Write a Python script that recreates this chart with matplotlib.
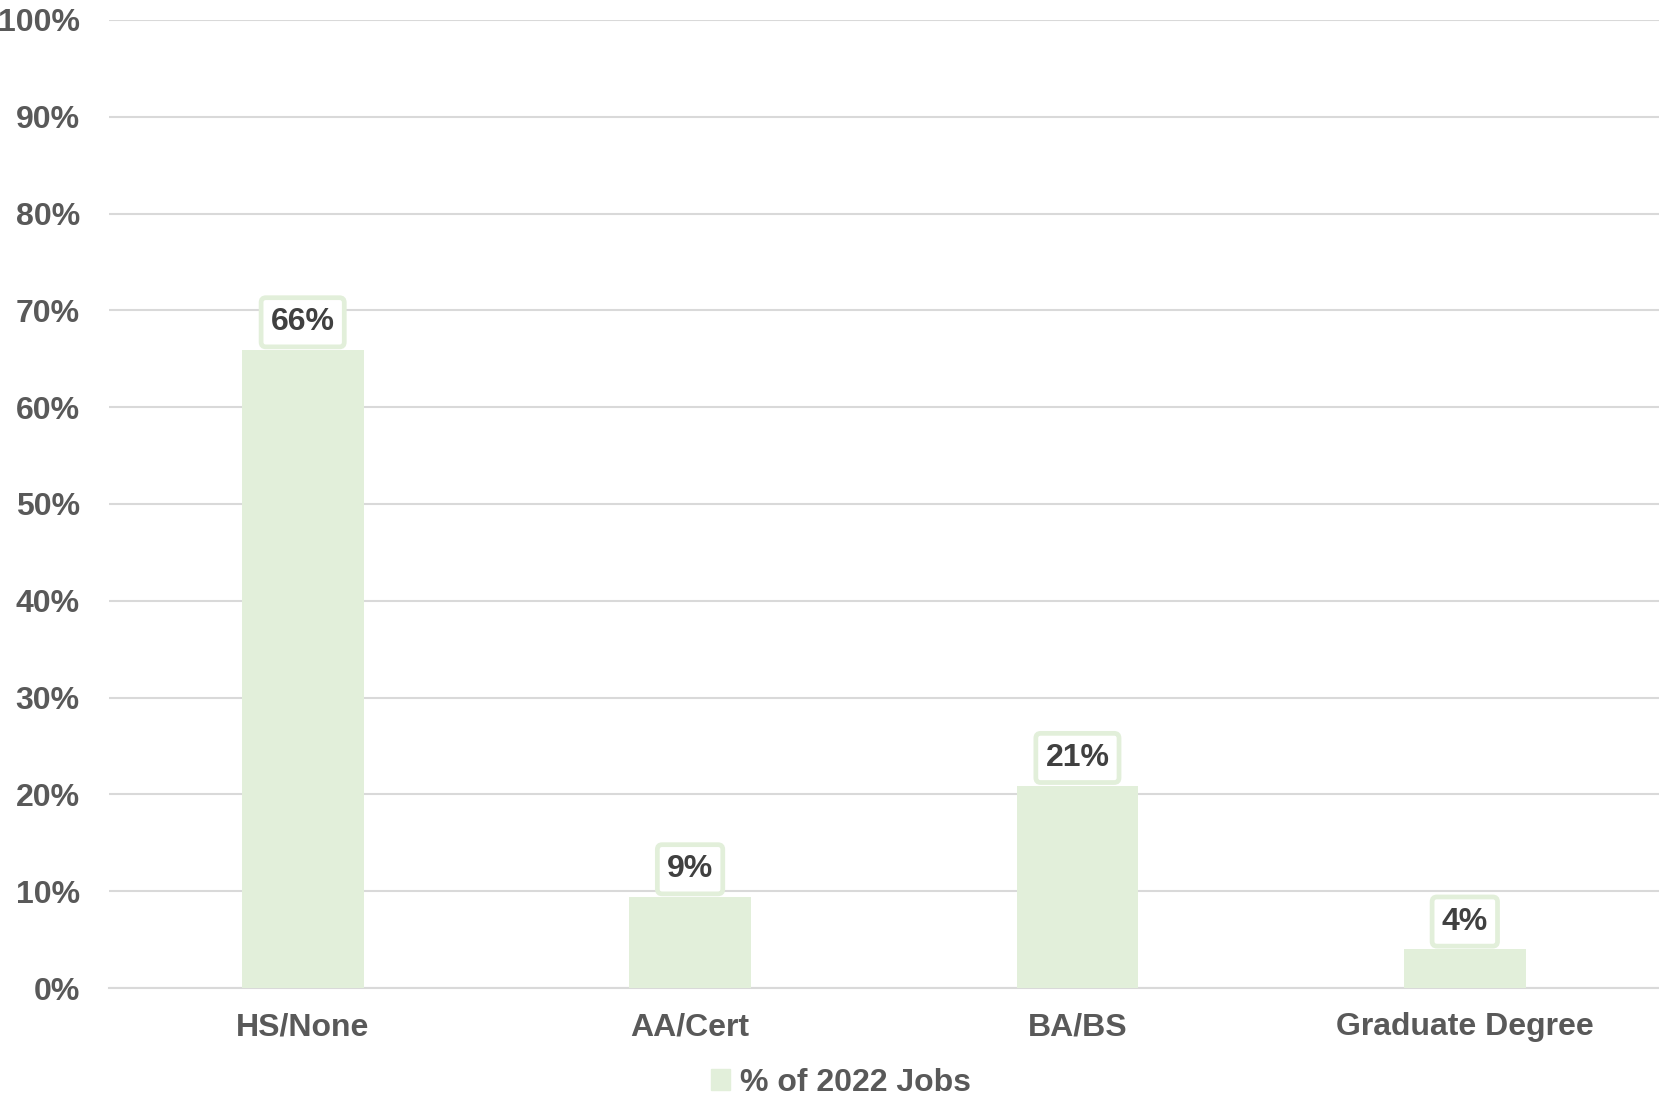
import matplotlib
matplotlib.use("Agg")
import matplotlib.pyplot as plt
from matplotlib.ticker import MultipleLocator, FuncFormatter
from matplotlib.patches import Patch

# share of 2022 jobs by education level required
categories = ["HS/None", "AA/Cert", "BA/BS", "Graduate Degree"]
job_share = [65.9, 9.4, 20.9, 4.0]
series_name = "% of 2022 Jobs"

bar_color = "#E2EFDA"
text_color = "#595959"
label_color = "#404040"

plt.rcParams["font.family"] = ["Liberation Sans", "DejaVu Sans"]
plt.rcParams["font.weight"] = "bold"

fig = plt.figure(figsize=(16.59, 10.96), dpi=100)
ax = fig.add_axes([0.0657, 0.0985, 0.934, 0.8833])

x = range(len(categories))
ax.bar(x, job_share, width=0.314, color=bar_color, zorder=3)

for xi, val in zip(x, job_share):
    ax.annotate(f"{val:.0f}%", xy=(xi, val), xytext=(0, 20), textcoords="offset points",
                ha="center", va="center", fontsize=23, fontweight="bold", color=label_color,
                bbox=dict(boxstyle="round,pad=0.3,rounding_size=0.15", fc="white",
                          ec=bar_color, lw=3.4), zorder=4)

ax.set_xlim(-0.5, 3.5)
ax.set_ylim(0, 100)
ax.yaxis.set_major_locator(MultipleLocator(10))
ax.yaxis.set_major_formatter(FuncFormatter(lambda v, p: f"{v:.0f}%"))
ax.set_xticks(list(x))
ax.set_xticklabels(categories)
ax.grid(axis="y", color="#D9D9D9", linewidth=1.5, zorder=0)
ax.set_axisbelow(True)
for s in ["top", "right", "left"]:
    ax.spines[s].set_visible(False)
ax.spines["bottom"].set_color("#D9D9D9")
ax.spines["bottom"].set_linewidth(1.5)
ax.tick_params(axis="both", length=0, labelsize=23, labelcolor=text_color)
ax.tick_params(axis="x", pad=17.5)
ax.tick_params(axis="y", pad=21)
for t in ax.get_xticklabels() + ax.get_yticklabels():
    t.set_fontweight("bold")

fig.legend(handles=[Patch(color=bar_color, label=series_name)], loc="center",
           bbox_to_anchor=(0.507, 0.012), frameon=False,
           handlelength=0.6, handleheight=0.6, handletextpad=0.3,
           labelcolor=text_color, prop={"weight": "bold", "size": 23})

fig.savefig("out.png", dpi=100)
